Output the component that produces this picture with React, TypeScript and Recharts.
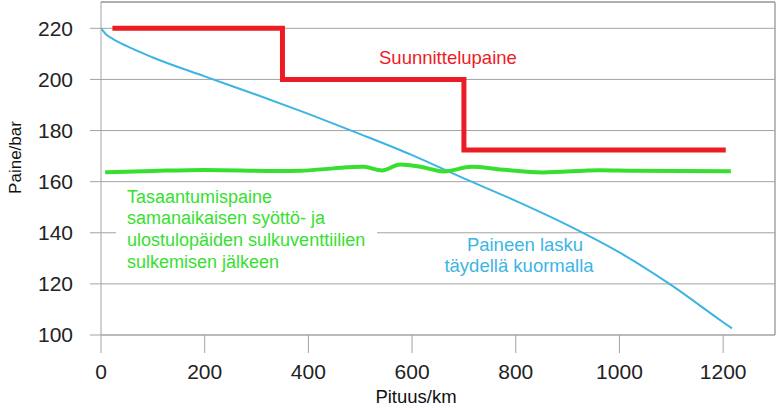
import React from 'react';
import { LineChart, Line, XAxis, YAxis, CartesianGrid, ReferenceLine } from 'recharts';

// Axis ticks
const xTicks = [0, 200, 400, 600, 800, 1000, 1200];
const yTicks = [100, 120, 140, 160, 180, 200, 220];

// Suunnittelupaine (design pressure, step line)
const designKm = [22, 350, 350, 700, 700, 1205];
const designBar = [220, 220, 200, 200, 172.4, 172.4];

// Tasaantumispaine (settling pressure)
const settleKm = [8, 100, 200, 340, 385, 448, 506, 542, 577, 616, 661, 715, 770, 852, 962, 1026, 1215];
const settleBar = [163.7, 164.2, 164.6, 164.2, 164.3, 165.2, 165.8, 164.4, 166.7, 165.8, 164.0, 165.8, 164.8, 163.6, 164.5, 164.3, 164.1];

// Paineen lasku täydellä kuormalla (pressure drop at full load)
const dropKm = [0, 10, 22, 50, 100, 200, 300, 400, 500, 600, 700, 800, 900, 1000, 1100, 1200, 1217];
const dropBar = [220, 217.6, 216, 213.0, 208.6, 201.2, 194, 186.5, 178.6, 170.4, 161.3, 152.5, 143, 132.3, 119.5, 105, 102.6];

const designData = designKm.map((x, i) => ({ x, p: designBar[i] }));
const settleData = settleKm.map((x, i) => ({ x, p: settleBar[i] }));
const dropData = dropKm.map((x, i) => ({ x, p: dropBar[i] }));

const Y_MAX = 230.3;
const X_MAX = 1300;
const GRID = '#a3a3a3';
const RED = '#ec1c24';
const GREEN = '#35e02f';
const BLUE = '#3db5e3';
const FONT = '"Liberation Sans", Arial, sans-serif';

export default function App() {
  return (
    <div style={{ position: 'absolute', left: 0, top: 0, width: 778, height: 410, background: '#fff', fontFamily: FONT }}>
      <LineChart width={778} height={410} margin={{ top: 2, right: 3, bottom: 0, left: 0 }}>
        <CartesianGrid vertical={false} stroke={GRID} strokeWidth={1} />
        <XAxis
          type="number"
          dataKey="x"
          domain={[0, X_MAX]}
          ticks={xTicks}
          allowDataOverflow
          height={75}
          tickSize={18}
          tickMargin={11}
          stroke={GRID}
          tick={{ fill: '#222', fontSize: 21, fontFamily: FONT }}
        />
        <YAxis
          type="number"
          domain={[100, Y_MAX]}
          ticks={yTicks}
          allowDataOverflow
          width={101}
          tickSize={11}
          tickMargin={17}
          stroke={GRID}
          tick={{ fill: '#222', fontSize: 21, fontFamily: FONT }}
        />
        <ReferenceLine y={Y_MAX} stroke={GRID} strokeWidth={1.5} />
        <ReferenceLine x={X_MAX} stroke={GRID} strokeWidth={1.5} />
        <Line
          data={dropData}
          dataKey="p"
          type="monotone"
          stroke={BLUE}
          strokeWidth={2}
          dot={false}
          isAnimationActive={false}
        />
        <Line
          data={settleData}
          dataKey="p"
          type="monotone"
          stroke={GREEN}
          strokeWidth={4}
          dot={false}
          isAnimationActive={false}
        />
        <Line
          data={designData}
          dataKey="p"
          type="linear"
          stroke={RED}
          strokeWidth={5}
          strokeLinejoin="miter"
          strokeLinecap="butt"
          dot={false}
          isAnimationActive={false}
        />
      </LineChart>
      <svg width={778} height={410} style={{ position: 'absolute', left: 0, top: 0, pointerEvents: 'none' }} fontFamily={FONT}>
        <rect x={116} y={187} width={261} height={86} fill="#fff" />
        <text x={379} y={63.5} fill={RED} fontSize={18.5}>Suunnittelupaine</text>
        <g fill={GREEN} fontSize={18}>
          <text x={127} y={202.5}>Tasaantumispaine</text>
          <text x={127} y={224.3}>samanaikaisen syöttö- ja</text>
          <text x={127} y={246}>ulostulopäiden sulkuventtiilien</text>
          <text x={127} y={268}>sulkemisen jälkeen</text>
        </g>
        <g fill={BLUE} fontSize={18.5} textAnchor="middle">
          <text x={525} y={251}>Paineen lasku</text>
          <text x={519} y={271.5}>täydellä kuormalla</text>
        </g>
        <text x={416} y={403} fill="#111" fontSize={18.5} textAnchor="middle">Pituus/km</text>
        <text
          x={15.5}
          y={157.5}
          fill="#111"
          fontSize={17}
          textAnchor="middle"
          dominantBaseline="central"
          transform="rotate(-90 15.5 157.5)"
        >Paine/bar</text>
      </svg>
    </div>
  );
}
